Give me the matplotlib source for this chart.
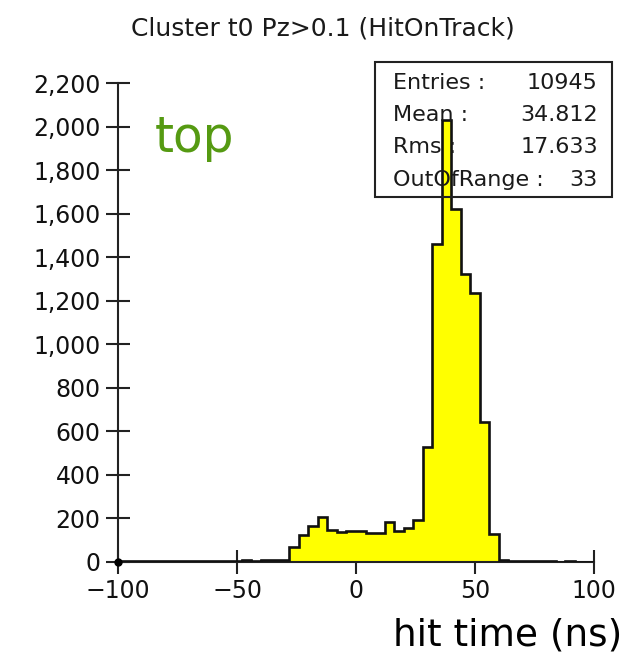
import numpy as np
import matplotlib
matplotlib.use("Agg")
import matplotlib.pyplot as plt
from matplotlib.patches import Rectangle
from matplotlib.ticker import FuncFormatter

# histogram of cluster t0, 4 ns bins from -100 to 100
bin_edges = np.arange(-100, 104, 4)
counts = [3, 2, 4, 3, 2, 3, 4, 3, 2, 3, 4, 5, 4, 6, 5, 7, 8, 10,  # -100 .. -28
          70, 125, 165, 206, 148, 138, 142, 143, 130, 130,        # -28 .. 12
          185, 140, 155, 194, 528, 1460, 2030, 1620, 1325, 1237,  # 12 .. 52
          643, 128,                                               # 52 .. 60
          6, 4, 3, 2, 3, 2, 1, 2, 1, 1]                           # 60 .. 100

title = "Cluster t0 Pz>0.1 (HitOnTrack)"
xlabel = "hit time (ns)"
tag = "top"
stat_names = ["Entries :", "Mean :", "Rms :", "OutOfRange :"]
stat_values = ["10945", "34.812", "17.633", "33"]

plt.rcParams['font.family'] = ['DejaVu Sans']

fig = plt.figure(figsize=(6.26, 6.57), dpi=100)
ax = fig.add_axes([0.1885, 0.145, 0.7604, 0.7282])

ax.stairs(counts, bin_edges, fill=True, color='#ffff00', zorder=2)
ax.stairs(counts, bin_edges, color='#111111', linewidth=1.9, zorder=3)
ax.plot(-100, 0, 'o', color='black', ms=5, clip_on=False, zorder=4)

ax.set_xlim(-100, 100)
ax.set_ylim(0, 2200)
ax.set_xticks([-100, -50, 0, 50, 100])
ax.set_yticks(np.arange(0, 2201, 200))
ax.yaxis.set_major_formatter(FuncFormatter(lambda v, p: '{:,.0f}'.format(v)))
ax.xaxis.set_major_formatter(FuncFormatter(lambda v, p: '{:.0f}'.format(v).replace('-', '\u2212')))

for s in ['top', 'right']:
    ax.spines[s].set_visible(False)
for s in ['left', 'bottom']:
    ax.spines[s].set_linewidth(1.5)
    ax.spines[s].set_color('#222222')
ax.tick_params(direction='inout', length=17, width=1.5, color='#222222',
               labelsize=17, pad=4, labelcolor='#111111')

fig.text(0.515, 0.957, title, ha='center', va='center', fontsize=18, color='#1a1a1a')
fig.text(0.248, 0.7686, tag, fontsize=35, color='#559a12', ha='left', va='baseline')
fig.text(0.9936, 0.018, xlabel, fontsize=27, ha='right', va='baseline', color='black')

# stats box
box = Rectangle((0.599, 0.700), 0.379, 0.2056, transform=fig.transFigure,
                fill=False, edgecolor='#222222', linewidth=1.5, zorder=5)
fig.patches.append(box)
rows_y = [0.8737, 0.825, 0.776, 0.726]
for name, val, y in zip(stat_names, stat_values, rows_y):
    fig.text(0.628, y, name, ha='left', va='center', fontsize=16, color='#1a1a1a')
    fig.text(0.955, y, val, ha='right', va='center', fontsize=16, color='#1a1a1a')

fig.savefig('out.png', dpi=100)
